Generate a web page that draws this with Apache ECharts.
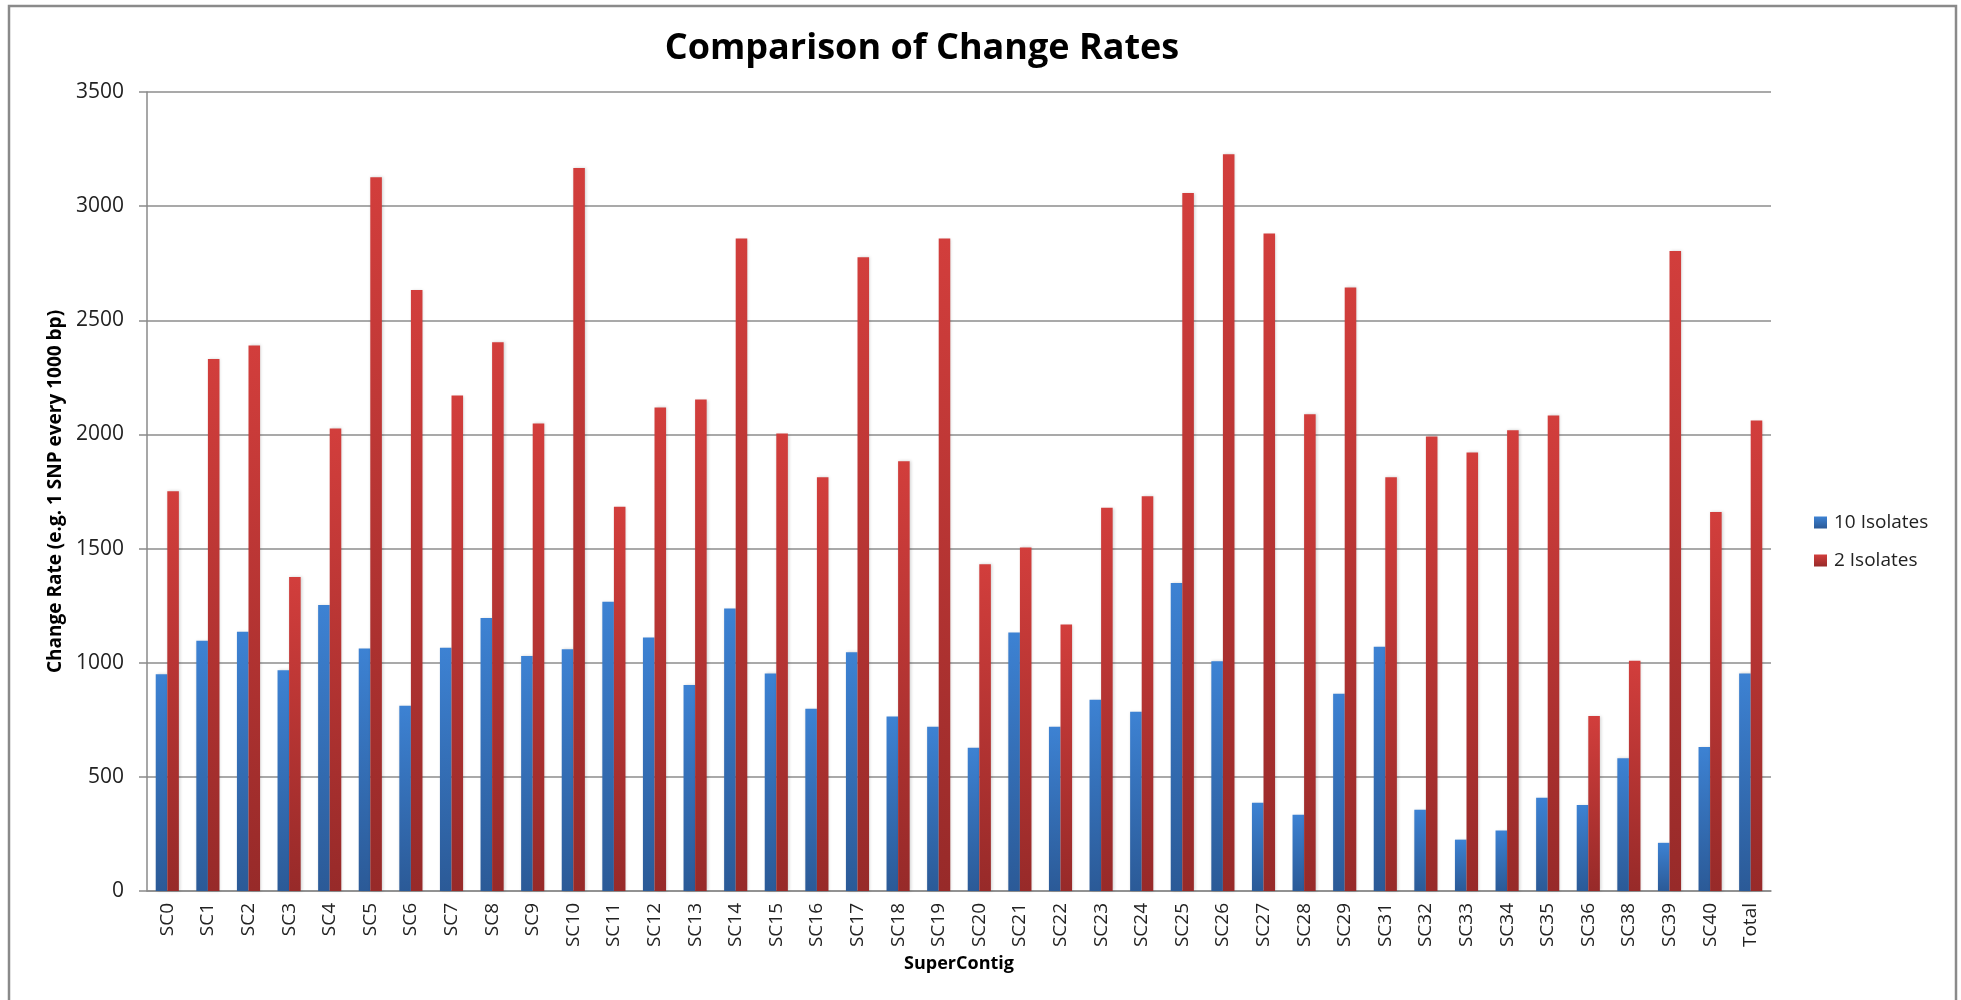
<!DOCTYPE html>
<html>
<head>
<meta charset="utf-8">
<title>Comparison of Change Rates</title>
<script src="https://cdn.jsdelivr.net/npm/echarts@6/dist/echarts.min.js"></script>
<style>
  html, body { margin: 0; padding: 0; background: #fff; }
  #main { width: 1961px; height: 1000px; }
</style>
</head>
<body>
<div id="main"></div>
<script>
const categories = [
  'SC0', 'SC1', 'SC2', 'SC3', 'SC4', 'SC5', 'SC6', 'SC7', 'SC8', 'SC9',
  'SC10', 'SC11', 'SC12', 'SC13', 'SC14', 'SC15', 'SC16', 'SC17', 'SC18', 'SC19',
  'SC20', 'SC21', 'SC22', 'SC23', 'SC24', 'SC25', 'SC26', 'SC27', 'SC28', 'SC29',
  'SC31', 'SC32', 'SC33', 'SC34', 'SC35', 'SC36', 'SC38', 'SC39', 'SC40', 'Total'
]
// 10 Isolates
const tenIsolates = [
  950, 1096, 1136, 967, 1253, 1062, 811, 1066, 1196, 1029,
  1059, 1267, 1110, 902, 1237, 953, 798, 1046, 764, 719,
  628, 1132, 719, 838, 785, 1349, 1006, 387, 334, 864,
  1070, 356, 225, 265, 408, 377, 581, 211, 631, 953
]
// 2 Isolates
const twoIsolates = [
  1751, 2330, 2390, 1375, 2026, 3127, 2633, 2170, 2404, 2048,
  3167, 1683, 2118, 2153, 2858, 2004, 1812, 2776, 1882, 2858,
  1431, 1505, 1167, 1679, 1729, 3058, 3227, 2880, 2088, 2644,
  1812, 1991, 1921, 2018, 2083, 767, 1009, 2803, 1660, 2061
]
const seriesNames = ['10 Isolates', '2 Isolates']

const chart = echarts.init(document.getElementById('main'))

const grad = (top, bottom) => new echarts.graphic.LinearGradient(0, 0, 0, 1, [
  { offset: 0, color: top },
  { offset: 1, color: bottom }
])

const option = {
  backgroundColor: '#fff',
  animation: false,
  title: {
    text: 'Comparison of Change Rates',
    left: 917,
    top: 26,
    textAlign: 'center',
    textStyle: { fontFamily: 'Open Sans', fontWeight: 'bold', fontSize: 36, color: '#000' }
  },
  legend: {
    orient: 'vertical',
    left: 1809,
    top: 508,
    itemWidth: 13,
    itemHeight: 12,
    itemGap: 19,
    icon: 'rect',
    textStyle: { fontFamily: 'Open Sans', fontSize: 19, color: '#222', padding: [0, 0, 0, 2] },
    data: seriesNames
  },
  grid: { left: 147, right: 190, top: 92, bottom: 109, containLabel: false },
  xAxis: {
    type: 'category',
    data: categories,
    name: 'SuperContig',
    nameLocation: 'middle',
    nameGap: 60,
    nameTextStyle: { fontFamily: 'Open Sans', fontWeight: 'bold', fontSize: 18, color: '#000' },
    axisLine: { lineStyle: { color: '#8a8a8a', width: 1.5 } },
    axisTick: { length: 7, lineStyle: { color: '#8a8a8a', width: 1.5 } },
    axisLabel: {
      rotate: 90,
      margin: 12,
      interval: 0,
      fontFamily: 'Open Sans',
      fontSize: 19,
      color: '#222'
    }
  },
  yAxis: {
    type: 'value',
    min: 0,
    max: 3500,
    interval: 500,
    name: 'Change Rate (e.g. 1 SNP every 1000 bp)',
    nameLocation: 'middle',
    nameGap: 80,
    nameTextStyle: { fontFamily: 'Open Sans', fontWeight: 'bold', fontSize: 19, color: '#000' },
    axisLine: { show: true, lineStyle: { color: '#8a8a8a', width: 1.5 } },
    axisTick: { show: true, inside: false, length: 8, lineStyle: { color: '#8a8a8a', width: 1.5 } },
    axisLabel: {
      margin: 23,
      fontFamily: 'Open Sans',
      fontSize: 21,
      color: '#222',
      formatter: (v) => String(v)
    },
    splitLine: { lineStyle: { color: '#8c8c8c', width: 1.5 } }
  },
  series: [
    {
      name: seriesNames[0],
      type: 'bar',
      data: tenIsolates,
      barGap: '0%',
      barCategoryGap: '43%',
      itemStyle: {
        color: grad('#3d82d3', '#2b5a97'),
        shadowColor: 'rgba(0,0,0,0.18)',
        shadowBlur: 3,
        shadowOffsetX: 1
      }
    },
    {
      name: seriesNames[1],
      type: 'bar',
      data: twoIsolates,
      barGap: '0%',
      barCategoryGap: '43%',
      itemStyle: {
        color: grad('#d23e3c', '#972a29'),
        shadowColor: 'rgba(0,0,0,0.18)',
        shadowBlur: 3,
        shadowOffsetX: 1
      }
    }
  ],
  graphic: [
    {
      type: 'rect',
      silent: true,
      shape: { x: 9, y: 6, width: 1947, height: 1010 },
      style: { fill: null, stroke: '#8a8a8a', lineWidth: 2.5 }
    }
  ]
}

chart.setOption(option)
</script>
</body>
</html>
